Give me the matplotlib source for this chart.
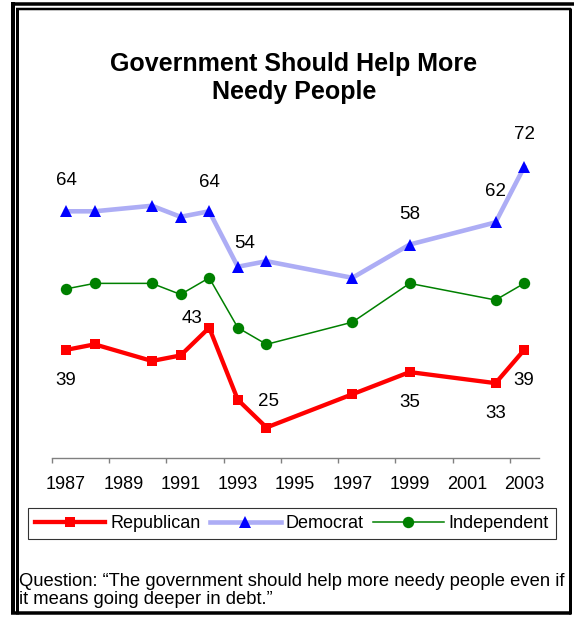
import matplotlib
matplotlib.use("Agg")
import matplotlib.pyplot as plt
from matplotlib.lines import Line2D

plt.rcParams['font.family'] = ['Liberation Sans', 'DejaVu Sans']

# Survey years and percentages agreeing, by party
years = [1987, 1988, 1990, 1991, 1992, 1993, 1994, 1997, 1999, 2002, 2003]
republican = [39, 40, 37, 38, 43, 30, 25, 31, 35, 33, 39]
democrat = [64, 64, 65, 63, 64, 54, 55, 52, 58, 62, 72]
independent = [50, 51, 51, 49, 52, 43, 40, 44, 51, 48, 51]

tick_years = list(range(1987, 2004, 2))
title_lines = ["Government Should Help More", "Needy People"]
question_lines = ["Question: \u201cThe government should help more needy people even if",
                  "it means going deeper in debt.\u201d"]

# Which points carry a value label, and where the label sits (pixel offsets)
dem_labels = {0: (0, 31), 4: (0, 29), 5: (7, 23), 8: (0, 30), 9: (0, 30.5), 10: (0, 32)}
rep_labels = {0: (0, -31), 4: (-17, 9), 6: (2, 26), 8: (0, -30), 9: (0, -30), 10: (0, -31)}

W, H = 574, 617
fig = plt.figure(figsize=(W / 100, H / 100), dpi=100)
fig.patch.set_facecolor('white')

# plot area in pixels (left, top, right, bottom)
px_l, px_t, px_r, px_b = 51.7, 122.6, 538.5, 458.0
ax = fig.add_axes([px_l / W, 1 - px_b / H, (px_r - px_l) / W, (px_b - px_t) / H])
ax.set_xlim(1986.5, 2003.5)
ax.set_ylim(19.5, 80)

rep_line, = ax.plot(years, republican, color='#FF0000', lw=3.1, marker='s',
                    markersize=7.8, markeredgewidth=0, zorder=3, label='Republican')
dem_line, = ax.plot(years, democrat, color='#ADADF5', lw=3.3, marker='^',
                    markersize=8.2, markerfacecolor='#0000FF', markeredgewidth=0,
                    zorder=3, label='Democrat')
ind_line, = ax.plot(years, independent, color='#008000', lw=1.1, marker='o',
                    markersize=8.2, markerfacecolor='#008000', markeredgewidth=0,
                    zorder=3, label='Independent')

label_fs = 13.5
for i, (dx, dy) in dem_labels.items():
    ax.annotate(str(democrat[i]), (years[i], democrat[i]), xytext=(dx, dy),
                textcoords='offset pixels', ha='center', va='center',
                fontsize=label_fs, color='black')
for i, (dx, dy) in rep_labels.items():
    ax.annotate(str(republican[i]), (years[i], republican[i]), xytext=(dx, dy),
                textcoords='offset pixels', ha='center', va='center',
                fontsize=label_fs, color='black')

# axes styling: only a grey baseline with ticks between year labels
for side in ('left', 'right', 'top'):
    ax.spines[side].set_visible(False)
ax.spines['bottom'].set_color('#808080')
ax.spines['bottom'].set_linewidth(1.0)
ax.set_yticks([])
ax.set_xticks(tick_years)
ax.set_xticklabels([str(y) for y in tick_years], fontsize=13)
ax.set_xticks([y - 0.5 for y in tick_years], minor=True)
ax.tick_params(axis='x', which='major', length=0, pad=13)
ax.tick_params(axis='x', which='minor', length=3.5, width=1.0, color='#808080',
               direction='out')
ax.set_facecolor('white')

# title
for k, line in enumerate(title_lines):
    fig.text(294 / W, 1 - (71.4 + 27.6 * k) / H, line, ha='center', va='baseline',
             fontsize=18, fontweight='bold', color='black')

# legend
leg = fig.legend(handles=[rep_line, dem_line, ind_line], loc='center', ncol=3,
                 mode='expand', bbox_to_anchor=(27.5 / W, 1 - 541 / H, 528.5 / W, 35 / H),
                 fontsize=13, frameon=True, fancybox=False, handlelength=3.9,
                 handletextpad=0.27, borderpad=0.4, borderaxespad=0, numpoints=1)
leg.get_frame().set_edgecolor('black')
leg.get_frame().set_linewidth(0.8)

# question wording
for k, line in enumerate(question_lines):
    fig.text(19 / W, 1 - (586 + 17.5 * k) / H, line, ha='left', va='baseline',
             fontsize=13.2, color='black')

# double frame
def hline(y, x0, x1, w):
    fig.add_artist(Line2D([x0, x1], [H - y, H - y], transform=None, color='black',
                          lw=w * 0.72, solid_capstyle='butt'))

def vline(x, y0, y1, w):
    fig.add_artist(Line2D([x, x], [H - y0, H - y1], transform=None, color='black',
                          lw=w * 0.72, solid_capstyle='butt'))

vline(12.8, 2, 614, 4)
hline(3.5, 10.8, W, 3.5)
vline(17.3, 8, 614, 3)
hline(9.0, 15.8, 571, 2.5)
vline(569.5, 8, 614, 3)
hline(612.5, 10.8, 571, 3.5)

fig.savefig('out.png', dpi=100, facecolor='white')
